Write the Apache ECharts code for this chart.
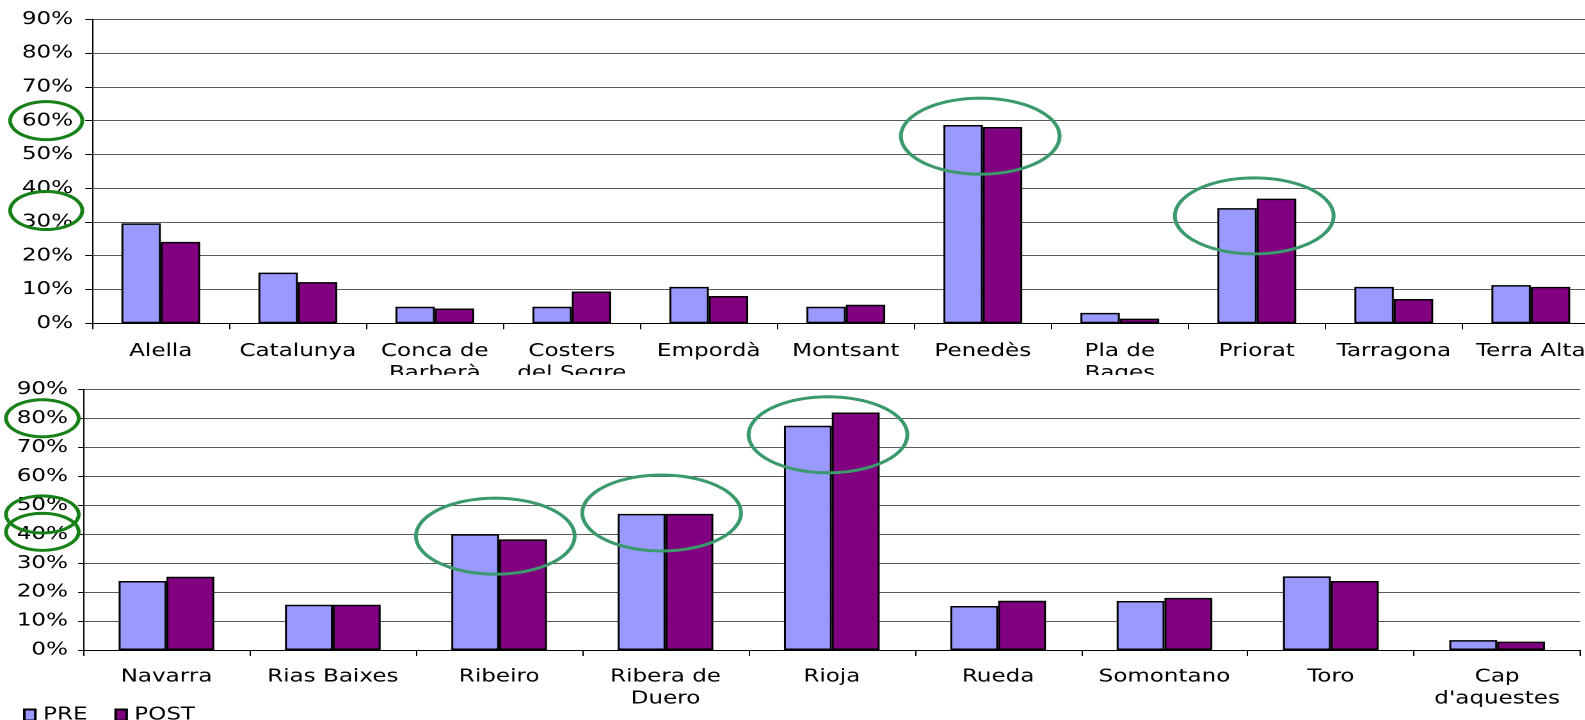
<!DOCTYPE html>
<html>
<head>
<meta charset="utf-8">
<script src="https://cdn.jsdelivr.net/npm/echarts@6/dist/echarts.min.js"></script>
<style>
  html, body { margin: 0; padding: 0; background: #fff; overflow: hidden; }
  #wrap { position: relative; width: 1585px; height: 720px; overflow: hidden; }
  .chart { position: absolute; left: 0; transform-origin: 0 0; }
</style>
</head>
<body>
<div id="wrap">
  <div id="top" class="chart"></div>
  <div id="bottom" class="chart"></div>
</div>
<script>
// ---------- DATA ----------
const seriesNames = ['PRE', 'POST'];

const catsTop = ['Alella', 'Catalunya', 'Conca de\nBarberà', 'Costers\ndel Segre', 'Empordà', 'Montsant', 'Penedès', 'Pla de\nBages', 'Priorat', 'Tarragona', 'Terra Alta'];
const preTop  = [29.6, 15.0, 4.9, 4.9, 10.8, 4.9, 58.7, 3.1, 34.1, 10.8, 11.3];
const postTop = [24.1, 12.2, 4.4, 9.4, 8.1, 5.5, 58.1, 1.4, 36.9, 7.2, 10.8];

const catsBottom = ['Navarra', 'Rias Baixes', 'Ribeiro', 'Ribera de\nDuero', 'Rioja', 'Rueda', 'Somontano', 'Toro', "Cap\nd'aquestes"];
const preBottom  = [23.8, 15.6, 40.0, 47.0, 77.4, 15.2, 16.9, 25.4, 3.4];
const postBottom = [25.3, 15.6, 38.2, 47.0, 82.0, 17.0, 18.0, 23.8, 2.9];

const yTicks = { min: 0, max: 90, interval: 10 };

// hand-drawn highlight rings (annotations)
const ringsTopLabels = [60, 33.4];
const ringsTopBars = [['Penedès', 55.4], ['Priorat', 31.8]];
const ringsBottomLabels = [80, 46.8, 40.8];
const ringsBottomBars = [['Ribeiro', 39.3], ['Ribera de\nDuero', 47.3], ['Rioja', 74.3]];

// ---------- LAYOUT ----------
const S = 1.28;               // horizontal stretch of the original picture
const W = 1585 / S;
const FONT = '"DejaVu Sans", Verdana, sans-serif';
const TOP_H = 375, BOT_H = 345;

const topDom = document.getElementById('top');
topDom.style.width = W + 'px'; topDom.style.height = TOP_H + 'px'; topDom.style.top = '0px';
topDom.style.transform = 'scaleX(' + S + ')';
const botDom = document.getElementById('bottom');
botDom.style.width = W + 'px'; botDom.style.height = BOT_H + 'px'; botDom.style.top = TOP_H + 'px';
botDom.style.transform = 'scaleX(' + S + ')';

function makeOption(cats, pre, post, g, showLegend) {
  return {
    animation: false,
    backgroundColor: '#fff',
    textStyle: { fontFamily: FONT },
    legend: showLegend ? {
      show: true, left: 13, top: 326, orient: 'horizontal',
      itemWidth: 8.6, itemHeight: 11, itemGap: 21,
      textStyle: { fontFamily: FONT, fontSize: 18, color: '#000', padding: [0, 0, 0, 1] },
      icon: 'rect'
    } : { show: false },
    grid: { left: g.left, top: g.top, width: g.width, height: g.height,
            containLabel: false, outerBoundsMode: 'none' },
    xAxis: {
      type: 'category', data: cats,
      axisLine: { show: true, lineStyle: { color: '#000', width: 1 } },
      axisTick: { show: true, length: 6, lineStyle: { color: '#000' } },
      axisLabel: { interval: 0, margin: g.xMargin, fontFamily: FONT, fontSize: 18, color: '#000', lineHeight: 22, hideOverlap: false },
      splitLine: { show: false }
    },
    yAxis: {
      type: 'value', min: yTicks.min, max: yTicks.max, interval: yTicks.interval,
      axisLine: { show: true, lineStyle: { color: '#000', width: 1 } },
      axisTick: { show: true, length: g.yTick, lineStyle: { color: '#000' } },
      axisLabel: { formatter: '{value}%', margin: g.yMargin, fontFamily: FONT, fontSize: 18, color: '#000' },
      splitLine: { show: true, lineStyle: { color: '#5a5a5a', width: 1 } }
    },
    series: [
      { name: seriesNames[0], type: 'bar', data: pre, barGap: '0%', barCategoryGap: '42.5%',
        itemStyle: { color: '#9999FF', borderColor: '#000', borderWidth: 1.5 } },
      { name: seriesNames[1], type: 'bar', data: post, barGap: '0%', barCategoryGap: '42.5%',
        itemStyle: { color: '#800080', borderColor: '#000', borderWidth: 1.5 } }
    ]
  };
}

function ellipsePoints(cx, cy, rx, ry) {
  const pts = [];
  for (let i = 0; i < 96; i++) {
    const a = (i / 96) * Math.PI * 2;
    pts.push([cx + rx * Math.cos(a), cy + ry * Math.sin(a)]);
  }
  return pts;
}
function ring(cx, cy, rx, ry, color) {
  return { type: 'polygon', z: 100, silent: true,
    shape: { points: ellipsePoints(cx, cy, rx, ry) },
    style: { fill: 'none', stroke: color, lineWidth: 3 } };
}

const DARK_GREEN = '#178117';
const MID_GREEN = '#3a9a6c';

// top chart
const gTop = { left: 92.3 / S, top: 19.3, width: 11 * 137 / S, height: 304, xMargin: 17, yMargin: 15, yTick: 5.5 };
const cTop = echarts.init(topDom, null, { renderer: 'canvas', devicePixelRatio: 2 });
cTop.setOption(makeOption(catsTop, preTop, postTop, gTop, false));
const gfxTop = [];
ringsTopLabels.forEach(v => {
  const p = cTop.convertToPixel({ gridIndex: 0 }, [0, v]);
  gfxTop.push(ring(gTop.left - 36, p[1], 28.2, 19, DARK_GREEN));
});
ringsTopBars.forEach(([c, v]) => {
  const p = cTop.convertToPixel({ gridIndex: 0 }, [c, v]);
  gfxTop.push(ring(p[0] - 2, p[1], 62, 38, MID_GREEN));
});
cTop.setOption({ graphic: gfxTop });

// bottom chart
const gBot = { left: 83.3 / S, top: 389.3 - TOP_H, width: 1497 / S, height: 260.7, xMargin: 16, yMargin: 12, yTick: 4 };
const cBot = echarts.init(botDom, null, { renderer: 'canvas', devicePixelRatio: 2 });
cBot.setOption(makeOption(catsBottom, preBottom, postBottom, gBot, true));
const gfxBot = [];
ringsBottomLabels.forEach(v => {
  const p = cBot.convertToPixel({ gridIndex: 0 }, [0, v]);
  gfxBot.push(ring(gBot.left - 32, p[1], 28.4, 18.5, DARK_GREEN));
});
ringsBottomBars.forEach(([c, v]) => {
  const p = cBot.convertToPixel({ gridIndex: 0 }, [c, v]);
  gfxBot.push(ring(p[0] - 3, p[1], 62, 38, MID_GREEN));
});
cBot.setOption({ graphic: gfxBot });
</script>
</body>
</html>
